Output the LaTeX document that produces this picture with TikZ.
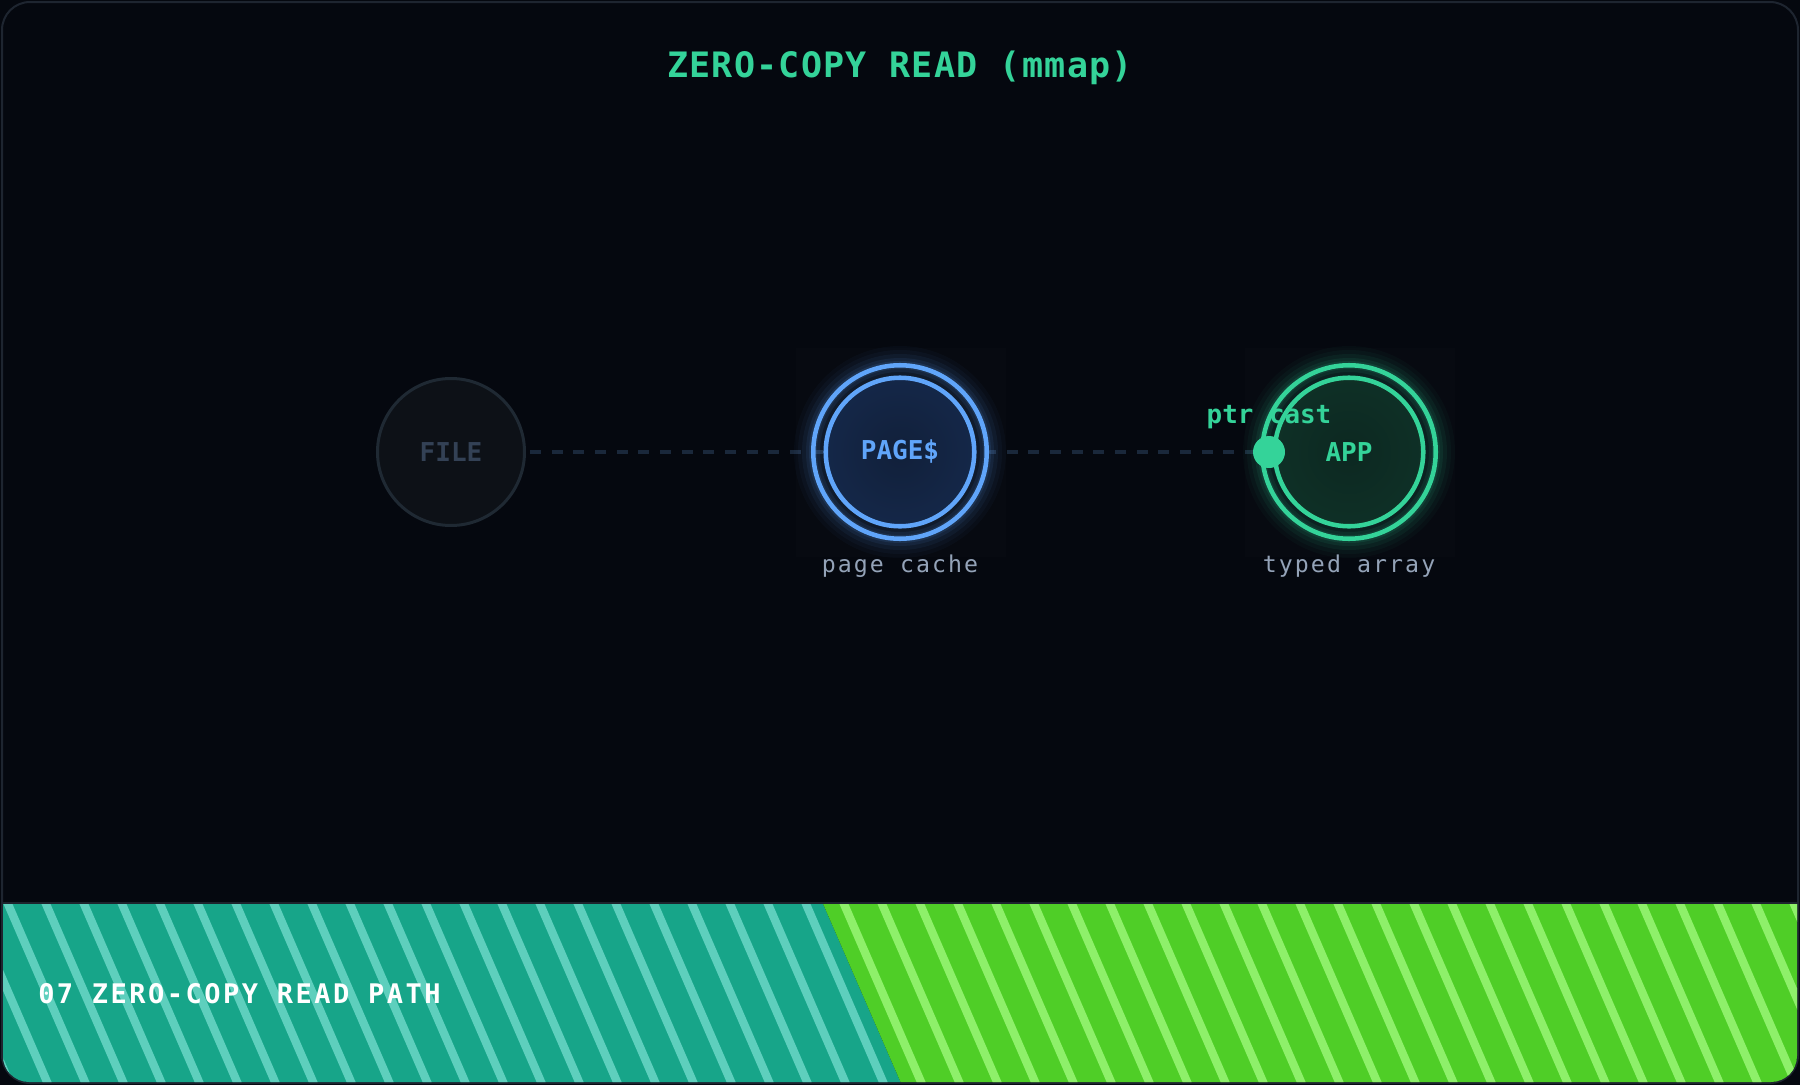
\documentclass[tikz,border=0pt]{standalone}
\usepackage{fontspec}
\setmonofont{DejaVu Sans Mono}
\newfontfamily\titlefont[LetterSpace=3.7]{DejaVu Sans Mono}
\newfontfamily\lblfont[LetterSpace=9]{DejaVu Sans Mono}
\newfontfamily\nodefont{DejaVu Sans Mono}
\newfontfamily\footfont[LetterSpace=9.2]{DejaVu Sans Mono}
\usetikzlibrary{backgrounds}
\definecolor{bgc}{HTML}{05080F}
\definecolor{cardborder}{HTML}{1E2530}
\definecolor{emerald}{HTML}{34D399}
\definecolor{sky}{HTML}{60A5FA}
\definecolor{slatelbl}{HTML}{94A3B8}
\definecolor{filetext}{HTML}{334155}
\definecolor{filefill}{HTML}{0D1117}
\definecolor{filedraw}{HTML}{1F2933}
\definecolor{conn}{HTML}{1A283B}
\definecolor{tealbg}{HTML}{17A589}
\definecolor{tealstripe}{HTML}{5ECFBD}
\definecolor{greenbg}{HTML}{4FCE27}
\definecolor{greenstripe}{HTML}{8EF06A}
\definecolor{footline}{HTML}{1D242D}
\definecolor{pgin}{HTML}{11203A}
\definecolor{pgmid}{HTML}{15284A}
\definecolor{pgout}{HTML}{26466F}
\definecolor{apin}{HTML}{0C2821}
\definecolor{apmid}{HTML}{0F3127}
\definecolor{apout}{HTML}{1B5745}
\pgfdeclareradialshading{pageshade}{\pgfpoint{0bp}{0bp}}{color(0bp)=(pgin); color(28bp)=(pgmid); color(50bp)=(pgout)}
\pgfdeclareradialshading{appshade}{\pgfpoint{0bp}{0bp}}{color(0bp)=(apin); color(28bp)=(apmid); color(50bp)=(apout)}
\pgfdeclarelayer{bottom}
\pgfdeclarelayer{background}
\pgfsetlayers{bottom,background,main}
\begin{document}
\begin{tikzpicture}[x=0.75pt,y=-0.75pt,
  filenode/.style={circle, minimum size=110.25pt, inner sep=0pt, draw=filedraw, line width=2.25pt, fill=filefill, text=filetext, font=\nodefont\bfseries\fontsize{19.5pt}{22pt}\selectfont},
  pagenode/.style={circle, minimum size=111.4pt, inner sep=0pt, draw=sky, line width=3.4pt, shading=pageshade, text=sky, font=\nodefont\bfseries\fontsize{19.5pt}{22pt}\selectfont},
  appnode/.style={circle, minimum size=111.4pt, inner sep=0pt, draw=emerald, line width=3.4pt, shading=appshade, text=emerald, font=\nodefont\bfseries\fontsize{19.5pt}{22pt}\selectfont},
  sublbl/.style={anchor=base, inner sep=0pt, text=slatelbl, font=\lblfont\fontsize{17.4pt}{20pt}\selectfont},
  connector/.style={draw=conn, line width=2.6pt, dash pattern=on 8.25pt off 8pt, dash phase=5.85pt},
  stripeline/.style={line width=6.2pt},
]
\useasboundingbox (0,0) rectangle (1800,1085);
\begin{pgfonlayer}{bottom}
  \fill[bgc] (0,0) rectangle (1800,1085);
  \draw[cardborder, line width=1.5pt, rounded corners=21pt] (2,2) rectangle (1798,1083);
  % footer
  \begin{scope}
    \clip (3,904) -- (1797,904) -- (1797,1056) arc[start angle=0, end angle=90, radius=26] -- (29,1082) arc[start angle=90, end angle=180, radius=26] -- cycle;
    \begin{scope}
      \clip (-10,890) -- (817,890) -- (904,1090) -- (-10,1090) -- cycle;
      \fill[tealbg] (-10,890) rectangle (1810,1090);
      \foreach \i in {-4,...,50} {
        \draw[stripeline, tealstripe] ({8+38*\i-6.06},890) -- ++(86.6,200);
      }
    \end{scope}
    \begin{scope}
      \clip (817,890) -- (1810,890) -- (1810,1090) -- (904,1090) -- cycle;
      \fill[greenbg] (-10,890) rectangle (1810,1090);
      \foreach \i in {-4,...,50} {
        \draw[stripeline, greenstripe] ({8+38*\i-6.06},890) -- ++(86.6,200);
      }
    \end{scope}
  \end{scope}
  \draw[footline, line width=2pt] (3,903) -- (1797,903);
\end{pgfonlayer}

% title
\node[anchor=base, inner sep=0pt, text=emerald, font=\titlefont\bfseries\fontsize{26.25pt}{30pt}\selectfont] (title) at (900,77) {ZERO-COPY READ (mmap)};

% glow squares
\fill[white, opacity=0.012] (796,348) rectangle (1006,557);
\fill[white, opacity=0.012] (1245,348) rectangle (1455,557);

% glows
\foreach \w/\o in {38/0.03, 30/0.04, 22/0.06, 14/0.08, 8/0.1} {
  \draw[sky, opacity=\o, line width=\w*0.75pt] (900,452) circle[radius=87];
  \draw[emerald, opacity=\o, line width=\w*0.75pt] (1349,452) circle[radius=87];
}

% nodes
\node[filenode] (file) at (451,452) {FILE};
\node[pagenode] (page) at (900,452) {PAGE\$};
\draw[sky, line width=3.4pt] (page.center) circle[radius=86.75];
\node[appnode] (app) at (1349,452) {APP};
\draw[emerald, line width=3.4pt] (app.center) circle[radius=86.75];
\node[circle, fill=emerald, minimum size=24pt, inner sep=0pt] (dot) at (1269,452) {};

% labels
\node[anchor=base, inner sep=0pt, text=emerald, font=\nodefont\bfseries\fontsize{19.4pt}{22pt}\selectfont] (ptr) at (1269,423) {ptr cast};
\node[sublbl] (pagelbl) at (900,572) {page cache};
\node[sublbl] (applbl) at (1349,572) {typed array};

% connector (behind nodes)
\begin{pgfonlayer}{background}
  \draw[connector] (file.center) -- (dot.center);
\end{pgfonlayer}

% footer text
\node[anchor=base west, inner sep=0pt, text=white, font=\footfont\bfseries\fontsize{20.25pt}{24pt}\selectfont] (foot) at (38,1003) {07 ZERO-COPY READ PATH};
\end{tikzpicture}
\end{document}
